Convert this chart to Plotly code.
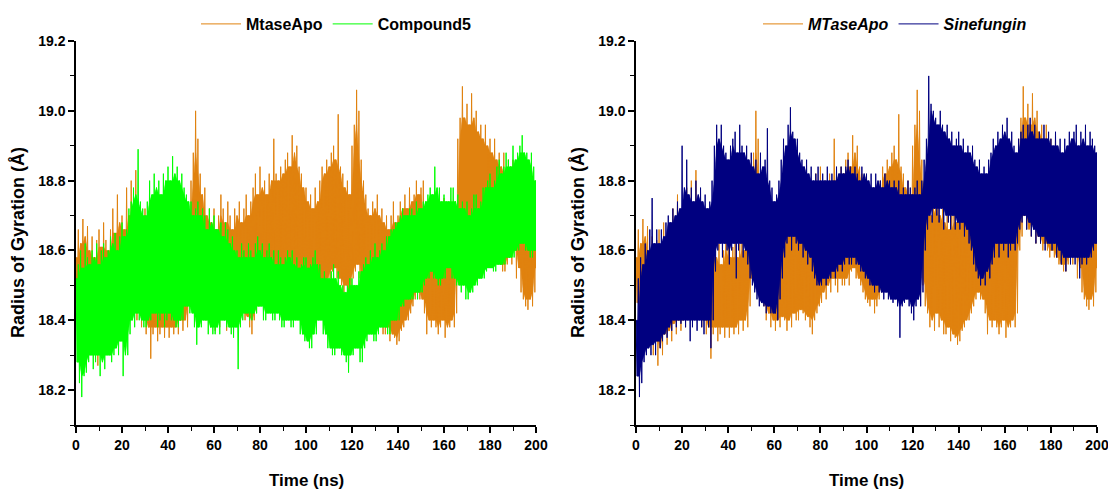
import plotly.graph_objects as go

# ---------------- data (1 ns steps, 0..200 ns) ----------------
time_ns = list(range(0, 201))

# MtaseApo: upper / lower extent of the fluctuation at each ns
apo_hi = [
    18.58, 18.66, 18.62, 18.69, 18.64, 18.67, 18.60, 18.64, 18.58, 18.63,
    18.66, 18.61, 18.68, 18.63, 18.60, 18.66, 18.72, 18.65, 18.76, 18.68,
    18.70, 18.66, 18.78, 18.70, 18.80, 18.72, 18.83, 18.74, 18.70, 18.66,
    18.72, 18.65, 18.68, 18.62, 18.64, 18.58, 18.62, 18.56, 18.60, 18.64,
    18.62, 18.58, 18.61, 18.64, 18.58, 18.62, 18.66, 18.60, 18.62, 18.70,
    18.80, 18.88, 19.00, 18.92, 18.82, 18.76, 18.78, 18.70, 18.72, 18.68,
    18.72, 18.66, 18.70, 18.76, 18.72, 18.68, 18.74, 18.70, 18.66, 18.72,
    18.70, 18.74, 18.68, 18.72, 18.76, 18.70, 18.74, 18.78, 18.82, 18.76,
    18.84, 18.78, 18.80, 18.76, 18.82, 18.80, 18.92, 18.82, 18.80, 18.84,
    18.82, 18.86, 18.88, 18.84, 18.93, 18.88, 18.90, 18.84, 18.82, 18.78,
    18.78, 18.74, 18.76, 18.72, 18.78, 18.74, 18.80, 18.84, 18.82, 18.86,
    18.84, 18.88, 18.90, 18.86, 18.99, 18.84, 18.82, 18.78, 18.80, 18.76,
    18.90, 18.96, 19.06, 19.00, 18.86, 18.80, 18.76, 18.72, 18.70, 18.74,
    18.72, 18.76, 18.70, 18.72, 18.68, 18.70, 18.66, 18.70, 18.74, 18.68,
    18.70, 18.74, 18.72, 18.76, 18.72, 18.78, 18.74, 18.76, 18.80, 18.76,
    18.78, 18.80, 18.70, 18.68, 18.72, 18.66, 18.68, 18.64, 18.70, 18.66,
    18.75, 18.64, 18.68, 18.62, 18.66, 18.74, 18.92, 18.98, 19.07, 18.98,
    19.02, 18.96, 19.05, 18.98, 19.00, 18.94, 18.96, 18.92, 18.96, 18.90,
    18.92, 18.88, 18.92, 18.86, 18.88, 18.84, 18.88, 18.82, 18.86, 18.84,
    18.86, 18.80, 18.84, 18.76, 18.72, 18.68, 18.72, 18.66, 18.74, 18.78,
    18.80,
]
apo_lo = [
    18.45, 18.40, 18.42, 18.36, 18.40, 18.35, 18.33, 18.30, 18.34, 18.27,
    18.32, 18.30, 18.36, 18.33, 18.37, 18.34, 18.39, 18.36, 18.40, 18.37,
    18.40, 18.38, 18.44, 18.40, 18.45, 18.42, 18.40, 18.43, 18.38, 18.40,
    18.36, 18.38, 18.29, 18.36, 18.38, 18.34, 18.36, 18.38, 18.35, 18.38,
    18.35, 18.38, 18.36, 18.38, 18.36, 18.40, 18.37, 18.40, 18.38, 18.44,
    18.52, 18.50, 18.55, 18.50, 18.46, 18.44, 18.40, 18.42, 18.38, 18.40,
    18.37, 18.40, 18.38, 18.41, 18.40, 18.37, 18.40, 18.38, 18.42, 18.40,
    18.40, 18.43, 18.42, 18.40, 18.41, 18.38, 18.36, 18.40, 18.42, 18.44,
    18.45, 18.48, 18.46, 18.50, 18.48, 18.52, 18.50, 18.48, 18.52, 18.50,
    18.50, 18.52, 18.50, 18.54, 18.55, 18.52, 18.52, 18.50, 18.48, 18.46,
    18.45, 18.44, 18.46, 18.42, 18.44, 18.46, 18.48, 18.50, 18.50, 18.52,
    18.52, 18.54, 18.55, 18.52, 18.52, 18.50, 18.48, 18.50, 18.48, 18.50,
    18.52, 18.54, 18.56, 18.52, 18.50, 18.44, 18.42, 18.38, 18.40, 18.37,
    18.42, 18.38, 18.40, 18.36, 18.36, 18.38, 18.34, 18.36, 18.35, 18.33,
    18.34, 18.37, 18.38, 18.40, 18.40, 18.42, 18.44, 18.46, 18.48, 18.46,
    18.46, 18.42, 18.36, 18.40, 18.38, 18.40, 18.38, 18.36, 18.38, 18.40,
    18.35, 18.38, 18.38, 18.40, 18.38, 18.42, 18.60, 18.64, 18.70, 18.66,
    18.66, 18.64, 18.68, 18.62, 18.64, 18.62, 18.60, 18.62, 18.60, 18.58,
    18.60, 18.58, 18.58, 18.56, 18.56, 18.54, 18.54, 18.56, 18.58, 18.56,
    18.60, 18.52, 18.55, 18.48, 18.46, 18.44, 18.43, 18.46, 18.44, 18.48,
    18.55,
]

# Compound5
cmp5_hi = [
    18.52, 18.56, 18.60, 18.55, 18.62, 18.58, 18.56, 18.60, 18.58, 18.62,
    18.56, 18.60, 18.62, 18.58, 18.60, 18.64, 18.62, 18.65, 18.60, 18.64,
    18.68, 18.64, 18.66, 18.72, 18.74, 18.78, 18.76, 18.89, 18.74, 18.72,
    18.70, 18.74, 18.80, 18.76, 18.82, 18.78, 18.80, 18.76, 18.82, 18.80,
    18.84, 18.80, 18.87, 18.82, 18.84, 18.80, 18.82, 18.78, 18.76, 18.74,
    18.74, 18.70, 18.72, 18.74, 18.70, 18.72, 18.70, 18.66, 18.72, 18.68,
    18.70, 18.66, 18.66, 18.68, 18.64, 18.68, 18.66, 18.62, 18.64, 18.60,
    18.60, 18.58, 18.62, 18.60, 18.58, 18.62, 18.60, 18.58, 18.62, 18.64,
    18.60, 18.62, 18.58, 18.60, 18.62, 18.58, 18.60, 18.56, 18.60, 18.58,
    18.56, 18.58, 18.60, 18.58, 18.60, 18.56, 18.58, 18.55, 18.56, 18.58,
    18.58, 18.55, 18.56, 18.58, 18.60, 18.56, 18.56, 18.52, 18.54, 18.52,
    18.52, 18.54, 18.56, 18.52, 18.54, 18.50, 18.50, 18.48, 18.50, 18.52,
    18.52, 18.50, 18.50, 18.54, 18.54, 18.56, 18.58, 18.56, 18.60, 18.58,
    18.62, 18.58, 18.60, 18.62, 18.60, 18.64, 18.64, 18.66, 18.66, 18.68,
    18.68, 18.70, 18.72, 18.70, 18.70, 18.72, 18.72, 18.70, 18.74, 18.72,
    18.72, 18.74, 18.74, 18.76, 18.78, 18.76, 18.84, 18.78, 18.78, 18.74,
    18.76, 18.74, 18.74, 18.78, 18.78, 18.74, 18.76, 18.72, 18.74, 18.72,
    18.74, 18.70, 18.72, 18.76, 18.76, 18.72, 18.74, 18.78, 18.78, 18.80,
    18.82, 18.78, 18.80, 18.84, 18.86, 18.82, 18.84, 18.88, 18.86, 18.84,
    18.90, 18.86, 18.88, 18.90, 18.93, 18.88, 18.88, 18.86, 18.88, 18.84,
    18.80,
]
cmp5_lo = [
    18.28, 18.22, 18.18, 18.24, 18.25, 18.28, 18.30, 18.26, 18.28, 18.30,
    18.24, 18.28, 18.26, 18.30, 18.30, 18.28, 18.30, 18.32, 18.30, 18.34,
    18.24, 18.30, 18.30, 18.36, 18.40, 18.38, 18.42, 18.40, 18.40, 18.38,
    18.38, 18.40, 18.40, 18.42, 18.42, 18.38, 18.40, 18.42, 18.38, 18.40,
    18.42, 18.40, 18.40, 18.38, 18.38, 18.40, 18.40, 18.44, 18.44, 18.42,
    18.42, 18.38, 18.33, 18.38, 18.38, 18.40, 18.40, 18.36, 18.38, 18.36,
    18.36, 18.38, 18.36, 18.40, 18.40, 18.38, 18.38, 18.36, 18.35, 18.38,
    18.26, 18.38, 18.40, 18.42, 18.42, 18.40, 18.40, 18.42, 18.42, 18.44,
    18.44, 18.40, 18.40, 18.42, 18.42, 18.40, 18.40, 18.42, 18.40, 18.38,
    18.38, 18.40, 18.40, 18.38, 18.38, 18.40, 18.40, 18.36, 18.36, 18.34,
    18.34, 18.32, 18.32, 18.36, 18.36, 18.40, 18.40, 18.36, 18.36, 18.32,
    18.32, 18.30, 18.30, 18.32, 18.32, 18.30, 18.30, 18.28, 18.25, 18.30,
    18.30, 18.32, 18.32, 18.28, 18.28, 18.32, 18.34, 18.36, 18.36, 18.34,
    18.34, 18.36, 18.38, 18.38, 18.38, 18.36, 18.36, 18.40, 18.40, 18.40,
    18.40, 18.44, 18.44, 18.46, 18.46, 18.46, 18.46, 18.48, 18.46, 18.48,
    18.48, 18.50, 18.52, 18.52, 18.54, 18.52, 18.52, 18.50, 18.50, 18.52,
    18.52, 18.55, 18.55, 18.52, 18.52, 18.50, 18.50, 18.48, 18.50, 18.46,
    18.46, 18.48, 18.48, 18.50, 18.50, 18.52, 18.52, 18.52, 18.54, 18.55,
    18.55, 18.54, 18.54, 18.56, 18.56, 18.56, 18.56, 18.58, 18.58, 18.58,
    18.58, 18.60, 18.60, 18.62, 18.62, 18.60, 18.60, 18.58, 18.58, 18.60,
    18.60,
]

# Sinefungin
sine_hi = [
    18.40, 18.52, 18.58, 18.56, 18.62, 18.60, 18.66, 18.75, 18.62, 18.66,
    18.62, 18.66, 18.64, 18.68, 18.70, 18.68, 18.72, 18.70, 18.74, 18.72,
    18.90, 18.78, 18.86, 18.76, 18.78, 18.74, 18.80, 18.76, 18.78, 18.74,
    18.76, 18.72, 18.74, 18.80, 18.90, 18.96, 18.92, 18.96, 18.90, 18.88,
    18.86, 18.90, 18.92, 18.94, 18.88, 18.96, 18.90, 18.88, 18.90, 18.86,
    18.88, 18.84, 18.86, 18.82, 18.88, 18.84, 18.86, 18.95, 18.80, 18.78,
    18.74, 18.76, 18.80, 18.86, 18.92, 18.90, 18.96, 19.01, 18.94, 18.92,
    18.92, 18.88, 18.86, 18.84, 18.86, 18.82, 18.84, 18.80, 18.82, 18.84,
    18.80, 18.82, 18.80, 18.84, 18.80, 18.82, 18.80, 18.84, 18.82, 18.84,
    18.82, 18.84, 18.86, 18.84, 18.82, 18.84, 18.82, 18.80, 18.84, 18.82,
    18.82, 18.80, 18.82, 18.78, 18.82, 18.80, 18.80, 18.78, 18.82, 18.80,
    18.80, 18.78, 18.80, 18.78, 18.80, 18.76, 18.78, 18.76, 18.80, 18.78,
    18.76, 18.78, 18.80, 18.76, 18.80, 18.86, 18.92, 19.10, 19.02, 19.00,
    18.98, 18.96, 19.00, 18.96, 18.94, 18.96, 18.92, 18.94, 18.90, 18.92,
    18.94, 18.90, 18.92, 18.88, 18.90, 18.88, 18.90, 18.86, 18.84, 18.86,
    18.82, 18.84, 18.82, 18.86, 18.88, 18.92, 18.90, 18.94, 18.92, 18.96,
    18.94, 18.98, 18.92, 18.94, 18.90, 18.88, 18.92, 18.94, 18.96, 18.92,
    18.96, 18.98, 18.94, 18.96, 18.92, 18.94, 18.92, 18.96, 18.92, 18.94,
    18.92, 18.90, 18.94, 18.90, 18.92, 18.88, 18.92, 18.90, 18.94, 18.92,
    18.94, 18.96, 18.90, 18.94, 18.92, 18.96, 18.90, 18.94, 18.92, 18.90,
    18.88,
]
sine_lo = [
    18.24, 18.18, 18.22, 18.28, 18.30, 18.32, 18.30, 18.33, 18.30, 18.34,
    18.32, 18.34, 18.36, 18.35, 18.38, 18.37, 18.40, 18.38, 18.40, 18.39,
    18.40, 18.38, 18.40, 18.34, 18.38, 18.40, 18.37, 18.40, 18.38, 18.36,
    18.40, 18.38, 18.32, 18.40, 18.54, 18.60, 18.62, 18.58, 18.62, 18.60,
    18.56, 18.60, 18.62, 18.52, 18.60, 18.62, 18.58, 18.60, 18.56, 18.52,
    18.50, 18.48, 18.46, 18.44, 18.45, 18.44, 18.42, 18.44, 18.42, 18.42,
    18.42, 18.40, 18.46, 18.52, 18.58, 18.62, 18.64, 18.60, 18.64, 18.62,
    18.60, 18.62, 18.58, 18.60, 18.56, 18.58, 18.54, 18.52, 18.50, 18.50,
    18.50, 18.52, 18.50, 18.52, 18.52, 18.54, 18.52, 18.54, 18.56, 18.54,
    18.56, 18.58, 18.56, 18.56, 18.58, 18.56, 18.56, 18.54, 18.54, 18.52,
    18.52, 18.50, 18.50, 18.48, 18.50, 18.48, 18.48, 18.46, 18.48, 18.46,
    18.46, 18.45, 18.46, 18.44, 18.35, 18.44, 18.45, 18.46, 18.44, 18.42,
    18.40, 18.44, 18.46, 18.44, 18.48, 18.60, 18.66, 18.70, 18.68, 18.72,
    18.70, 18.68, 18.72, 18.66, 18.70, 18.68, 18.66, 18.70, 18.66, 18.68,
    18.66, 18.68, 18.64, 18.66, 18.62, 18.60, 18.56, 18.54, 18.52, 18.50,
    18.52, 18.50, 18.54, 18.52, 18.56, 18.58, 18.62, 18.58, 18.62, 18.60,
    18.62, 18.58, 18.60, 18.62, 18.60, 18.62, 18.66, 18.68, 18.70, 18.66,
    18.68, 18.64, 18.66, 18.62, 18.64, 18.62, 18.64, 18.60, 18.62, 18.62,
    18.60, 18.62, 18.58, 18.60, 18.56, 18.58, 18.54, 18.58, 18.56, 18.58,
    18.56, 18.58, 18.52, 18.56, 18.58, 18.56, 18.58, 18.58, 18.60, 18.62,
    18.62,
]

x_ticks = [0, 20, 40, 60, 80, 100, 120, 140, 160, 180, 200]
y_ticks = [18.2, 18.4, 18.6, 18.8, 19.0, 19.2]

ORANGE = "#E0820F"
GREEN = "#00FF00"
NAVY = "#000080"
FONT = "Liberation Sans, Arial, sans-serif"


def zigzag(t, hi, lo):
    """Alternate each time step between its upper and lower reading."""
    xs, ys = [], []
    for ti, h, l in zip(t, hi, lo):
        xs.extend([ti, ti + 0.5])
        ys.extend([h, l])
    return xs, ys


def core_band(t, hi, lo):
    """Dense core: the part of the range shared by neighbouring readings."""
    n = len(t)
    c_hi = [min(hi[max(i - 1, 0):i + 2]) for i in range(n)]
    c_lo = [max(lo[max(i - 1, 0):i + 2]) for i in range(n)]
    xs = list(t) + [ti + 0.5 for ti in t][::-1]
    ys = c_hi + c_lo[::-1]
    return xs, ys


fig = go.Figure()


def add_series(hi, lo, name, color, xa, ya, leg):
    bx, by = core_band(time_ns, hi, lo)
    fig.add_trace(go.Scatter(x=bx, y=by, mode="lines", fill="toself",
                             fillcolor=color, line=dict(color=color, width=0.5),
                             xaxis=xa, yaxis=ya, showlegend=False,
                             hoverinfo="skip", legend=leg))
    zx, zy = zigzag(time_ns, hi, lo)
    fig.add_trace(go.Scatter(x=zx, y=zy, mode="lines", name=name,
                             line=dict(color=color, width=1),
                             xaxis=xa, yaxis=ya, legend=leg))


add_series(apo_hi, apo_lo, "MtaseApo", ORANGE, "x", "y", "legend")
add_series(cmp5_hi, cmp5_lo, "Compound5", GREEN, "x", "y", "legend")
add_series(apo_hi, apo_lo, "<i>MTaseApo</i>", ORANGE, "x2", "y2", "legend2")
add_series(sine_hi, sine_lo, "<i>Sinefungin</i>", NAVY, "x2", "y2", "legend2")

W, H = 1108, 491
dom_y = [(H - 425) / H, (H - 41) / H]
dom_x1 = [76 / W, 536 / W]
dom_x2 = [636 / W, 1097 / W]

xaxis_common = dict(
    range=[0, 200], tickmode="array", tickvals=x_ticks,
    ticks="outside", ticklen=6, tickwidth=1.5, tickcolor="black",
    showline=True, linecolor="black", linewidth=1.5,
    showgrid=False, zeroline=False, ticklabeloverflow="allow",
    tickfont=dict(family=FONT, size=14, color="black", weight="bold"),
    minor=dict(dtick=10, ticks="outside", ticklen=4, tickwidth=1.2, tickcolor="black"),
    automargin=False,
)
yaxis_common = dict(
    range=[18.1, 19.2], tickmode="array", tickvals=y_ticks, tickformat=".1f",
    ticks="outside", ticklen=6, tickwidth=1.5, tickcolor="black",
    showline=True, linecolor="black", linewidth=1.5,
    showgrid=False, zeroline=False, ticklabeloverflow="allow",
    tickfont=dict(family=FONT, size=14, color="black", weight="bold"),
    minor=dict(dtick=0.1, tick0=18.1, ticks="outside", ticklen=4, tickwidth=1.2,
               tickcolor="black"),
    automargin=False,
)

legend_common = dict(
    orientation="h", xanchor="left", yanchor="middle",
    font=dict(family=FONT, size=16, color="black", weight="bold"),
    bgcolor="rgba(0,0,0,0)", itemwidth=40, tracegroupgap=0,
)

fig.update_layout(
    width=W, height=H,
    margin=dict(l=0, r=0, t=0, b=0),
    plot_bgcolor="white", paper_bgcolor="white",
    xaxis=dict(domain=dom_x1, anchor="y", **xaxis_common),
    yaxis=dict(domain=dom_y, anchor="x", **yaxis_common),
    xaxis2=dict(domain=dom_x2, anchor="y2", **xaxis_common),
    yaxis2=dict(domain=dom_y, anchor="x2", **yaxis_common),
    legend=dict(x=196 / W, y=1 - 24 / H, **legend_common),
    legend2=dict(x=758 / W, y=1 - 24 / H, **legend_common),
    showlegend=True,
)

xtitle_font = dict(family=FONT, size=17, color="black", weight="bold")
ytitle_font = dict(family=FONT, size=18, color="black", weight="bold")
for xc in [(76 + 536) / 2 / W, (636 + 1097) / 2 / W]:
    fig.add_annotation(text="Time (ns)", x=xc, y=1 - 480 / H, xref="paper", yref="paper",
                       showarrow=False, font=xtitle_font, xanchor="center", yanchor="middle")
for xp in [18 / W, 578 / W]:
    fig.add_annotation(text="Radius of Gyration (Å)", x=xp, y=1 - 243 / H,
                       xref="paper", yref="paper", textangle=-90,
                       showarrow=False, font=ytitle_font, xanchor="center", yanchor="middle")

fig.write_html("out.html",
               config={"displayModeBar": False},
               post_script="document.body.style.margin='0px';"
                           "document.body.style.overflow='hidden';")
